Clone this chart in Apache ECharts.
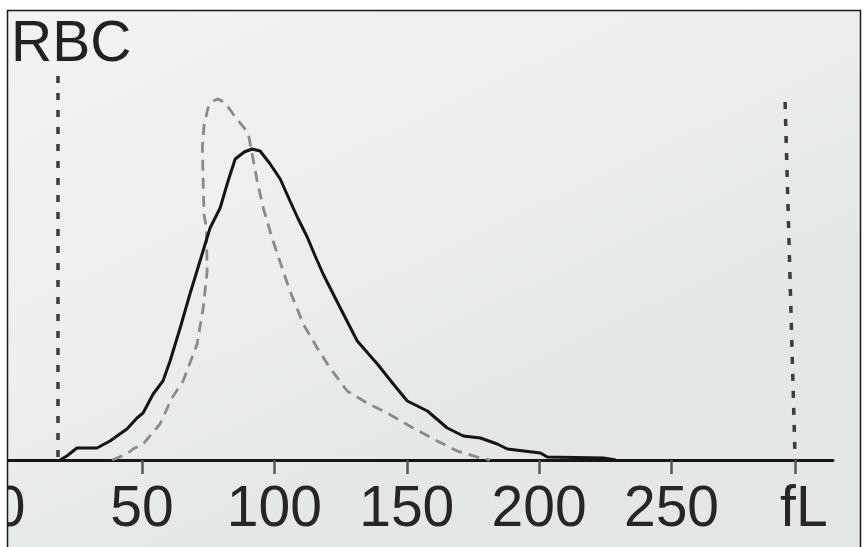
<!DOCTYPE html>
<html>
<head>
<meta charset="utf-8">
<script src="https://cdn.jsdelivr.net/npm/echarts@6/dist/echarts.min.js"></script>
<style>html,body{margin:0;padding:0;background:#fff}#c{width:864px;height:547px}</style>
</head>
<body>
<div id="c"></div>
<script>
// Patient RBC volume distribution (solid) — x in fL, y in relative counts
const solidX = [19.0, 21.6, 25.4, 33.0, 37.9, 44.3, 48.1, 50.4, 54.2, 57.9, 60.6, 64.4, 68.1, 71.9, 75.7, 79.5, 82.5, 85.2, 88.6, 91.6, 94.6, 98.4, 102.2, 105.9, 109.0, 112.4, 115.4, 118.4, 124.9, 131.3, 138.9, 144.9, 150.2, 157.8, 165.3, 171.4, 177.8, 184.2, 188.0, 200.5, 203.1, 224.3, 229.0];
const solidY = [0, 4, 12, 12, 19, 31, 42, 47, 66, 79, 99, 132, 166, 199, 232, 252, 279, 301, 308, 311, 309, 296, 281, 259, 241, 223, 204, 186, 152, 119, 96, 76, 59, 49, 32, 24, 22, 16, 11, 7, 3, 2, 0];
// Reference distribution (dashed)
const dashedX = [38.7, 44.3, 46.6, 50.4, 56.8, 61.3, 65.5, 67.4, 70.8, 73.1, 74.6, 74.3, 73.4, 73.1, 72.8, 73.4, 74.9, 76.8, 78.7, 81.4, 84.4, 90.1, 93.5, 95.8, 99.5, 103.3, 105.9, 110.9, 116.2, 121.0, 127.5, 135.0, 142.6, 152.4, 161.5, 169.1, 177.8, 181.5];
const dashedY = [0, 6, 11, 16, 36, 62, 79, 92, 116, 152, 189, 232, 246, 279, 312, 334, 352, 359, 361, 357, 346, 327, 279, 252, 219, 189, 169, 136, 112, 92, 69, 57, 47, 32, 19, 9, 2, 0];
// Discriminator lines (fL at top, fL at bottom, height at top)
const leftDisc = [18.3, 18.3, 384];
const rightDisc = [292.9, 296.7, 358];
// Axis labels
const tickValues = [0, 50, 100, 150, 200, 250];
const unitLabelValue = 300;
const unitLabel = 'fL';
const title = 'RBC';

const chart = echarts.init(document.getElementById('c'), null, {renderer: 'canvas'});
const pair = (xs, ys) => xs.map((x, i) => [x, ys[i]]);
const FONT = '"Liberation Sans", Arial, sans-serif';

chart.setOption({
  animation: false,
  backgroundColor: {
    type: 'linear', x: 0, y: 0, x2: 0.3, y2: 1,
    colorStops: [{offset: 0, color: '#f3f3f1'}, {offset: 0.6, color: '#eceeed'}, {offset: 1, color: '#e3e7e8'}]
  },
  grid: {left: 7, right: 31, top: 10, bottom: 87, containLabel: false, outerBoundsMode: 'none'},
  xAxis: {
    type: 'value', min: -1, max: 311,
    axisLine: {show: true, lineStyle: {color: '#161616', width: 3}},
    axisTick: {show: true, length: 14, lineStyle: {color: '#555', width: 2.5},
      customValues: [50, 100, 150, 200, 250, rightDisc[1]]},
    axisLabel: {
      customValues: tickValues.concat([unitLabelValue]),
      formatter: v => v === unitLabelValue ? unitLabel : String(v),
      fontFamily: FONT, fontSize: 57, color: '#262626', margin: 22,
      alignMinLabel: 'center', alignMaxLabel: 'center', hideOverlap: false
    },
    splitLine: {show: false}
  },
  yAxis: {type: 'value', min: 0, max: 450, show: false, splitLine: {show: false}},
  series: [
    {
      type: 'line', data: pair(dashedX, dashedY), showSymbol: false, symbol: 'none',
      lineStyle: {color: '#8a8a8a', width: 2.8, type: [11, 7]}, z: 2,
      markLine: {
        silent: true, symbol: ['none', 'none'], label: {show: false},
        lineStyle: {color: '#3c3c3c', width: 3.5, type: [7, 10]},
        data: [
          [{coord: [leftDisc[0], leftDisc[2]]}, {coord: [leftDisc[1], 0]}],
          [{coord: [rightDisc[0], rightDisc[2]]}, {coord: [rightDisc[1], 0]}]
        ]
      }
    },
    {
      type: 'line', data: pair(solidX, solidY), showSymbol: false, symbol: 'none',
      lineStyle: {color: '#141414', width: 3}, z: 3
    }
  ],
  graphic: [
    {type: 'text', left: 11, top: 17, z: 10,
      style: {text: title, font: '57px ' + FONT, fill: '#222'}},
    {type: 'rect', shape: {x: 0, y: 0, width: 864, height: 10}, style: {fill: '#fff'}, z: 20},
    {type: 'rect', shape: {x: 0, y: 0, width: 7, height: 547}, style: {fill: '#fff'}, z: 20},
    {type: 'rect', shape: {x: 861, y: 0, width: 3, height: 547}, style: {fill: '#fff'}, z: 20},
    {type: 'polyline', shape: {points: [[7.5, 547], [7.5, 10.5], [860.5, 10.5], [860.5, 547]]},
      style: {stroke: '#1a1a1a', lineWidth: 1.5, fill: null}, z: 21}
  ]
});
</script>
</body>
</html>
